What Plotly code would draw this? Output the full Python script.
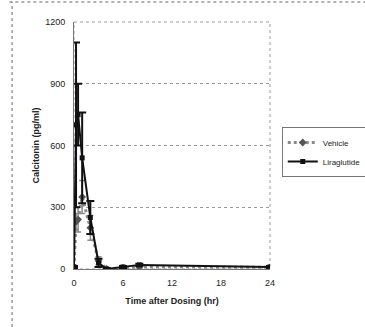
import plotly.graph_objects as go

# =============================================================================
# Data
# =============================================================================
TIME_HR = [0, 0.25, 0.5, 1, 2, 3, 4, 6, 8, 24]

VEHICLE     = [10, 230, 240, 350, 200, 40, 0, 5, 10, 8]
VEHICLE_ERR = [5, 40, 60, 80, 60, 20, 5, 5, 5, 5]

LIRA     = [10, 700, 750, 540, 250, 30, 0, 10, 20, 10]
LIRA_ERR = [5, 400, 150, 220, 80, 20, 5, 5, 5, 5]

X_TICKS = [0, 6, 12, 18, 24]
Y_TICKS = [0, 300, 600, 900, 1200]

FONT = "Liberation Sans"
GRID = "#9a9a9a"

fig = go.Figure()

fig.add_trace(go.Scatter(
    x=TIME_HR, y=VEHICLE, name="Vehicle",
    mode="lines+markers",
    line=dict(color="#8a8a8a", width=3, dash="dot"),
    marker=dict(symbol="diamond", size=6, color="#555555"),
    error_y=dict(type="data", array=VEHICLE_ERR, color="#8a8a8a",
                 thickness=1.5, width=3),
))
fig.add_trace(go.Scatter(
    x=TIME_HR, y=LIRA, name="Liraglutide",
    mode="lines+markers",
    line=dict(color="#111111", width=2),
    marker=dict(symbol="square", size=5, color="#111111"),
    error_y=dict(type="data", array=LIRA_ERR, color="#111111",
                 thickness=2, width=4),
))

# dotted frame round the plot area (right/top) + scan border lines
fig.add_shape(type="rect", xref="paper", yref="paper", x0=0, y0=0, x1=1, y1=1,
              line=dict(color=GRID, width=1, dash="dot"), layer="below")
fig.add_shape(type="line", xref="paper", yref="paper", x0=-0.33, x1=1.5, y0=1.081, y1=1.081,
              line=dict(color="#666666", width=1, dash="dot"))
fig.add_shape(type="line", xref="paper", yref="paper", x0=-0.316, x1=-0.316, y0=-0.235, y1=1.081,
              line=dict(color="#666666", width=1, dash="dot"))

fig.update_xaxes(
    range=[0, 24], tickvals=X_TICKS, showgrid=False, zeroline=False, automargin=False,
    showline=True, linecolor="#777777", linewidth=1, ticks="", ticklabelstandoff=5,
    title=dict(text="<b>Time after Dosing (hr)</b>", font=dict(size=9, family=FONT, color="#222"), standoff=10),
    tickfont=dict(size=9, family=FONT, color="#222"),
)
fig.update_yaxes(
    range=[0, 1200], tickvals=Y_TICKS, showgrid=True, gridcolor=GRID, griddash="dot",
    gridwidth=1, zeroline=False, showline=True, linecolor="#777777", linewidth=1, ticks="",
    automargin=False, ticklabelstandoff=6,
    title=dict(text="<b>Calcitonin (pg/ml)</b>", font=dict(size=9, family=FONT, color="#222"), standoff=4),
    tickfont=dict(size=9, family=FONT, color="#222"),
)

fig.update_layout(
    width=365, height=327,
    margin=dict(l=74, r=95, t=22, b=58, autoexpand=False),
    paper_bgcolor="white", plot_bgcolor="white",
    showlegend=True,
    legend=dict(
        x=1.06, y=0.575, xanchor="left", yanchor="top",
        bordercolor="#777777", borderwidth=1,
        font=dict(size=8, family=FONT, color="#222"),
        tracegroupgap=0, itemwidth=30,
    ),
)

# page body has an 8px default margin — drop it so the figure sits at (0, 0)
fig.write_html("out.html", config={"displayModeBar": False},
               post_script="document.body.style.margin='0';")
